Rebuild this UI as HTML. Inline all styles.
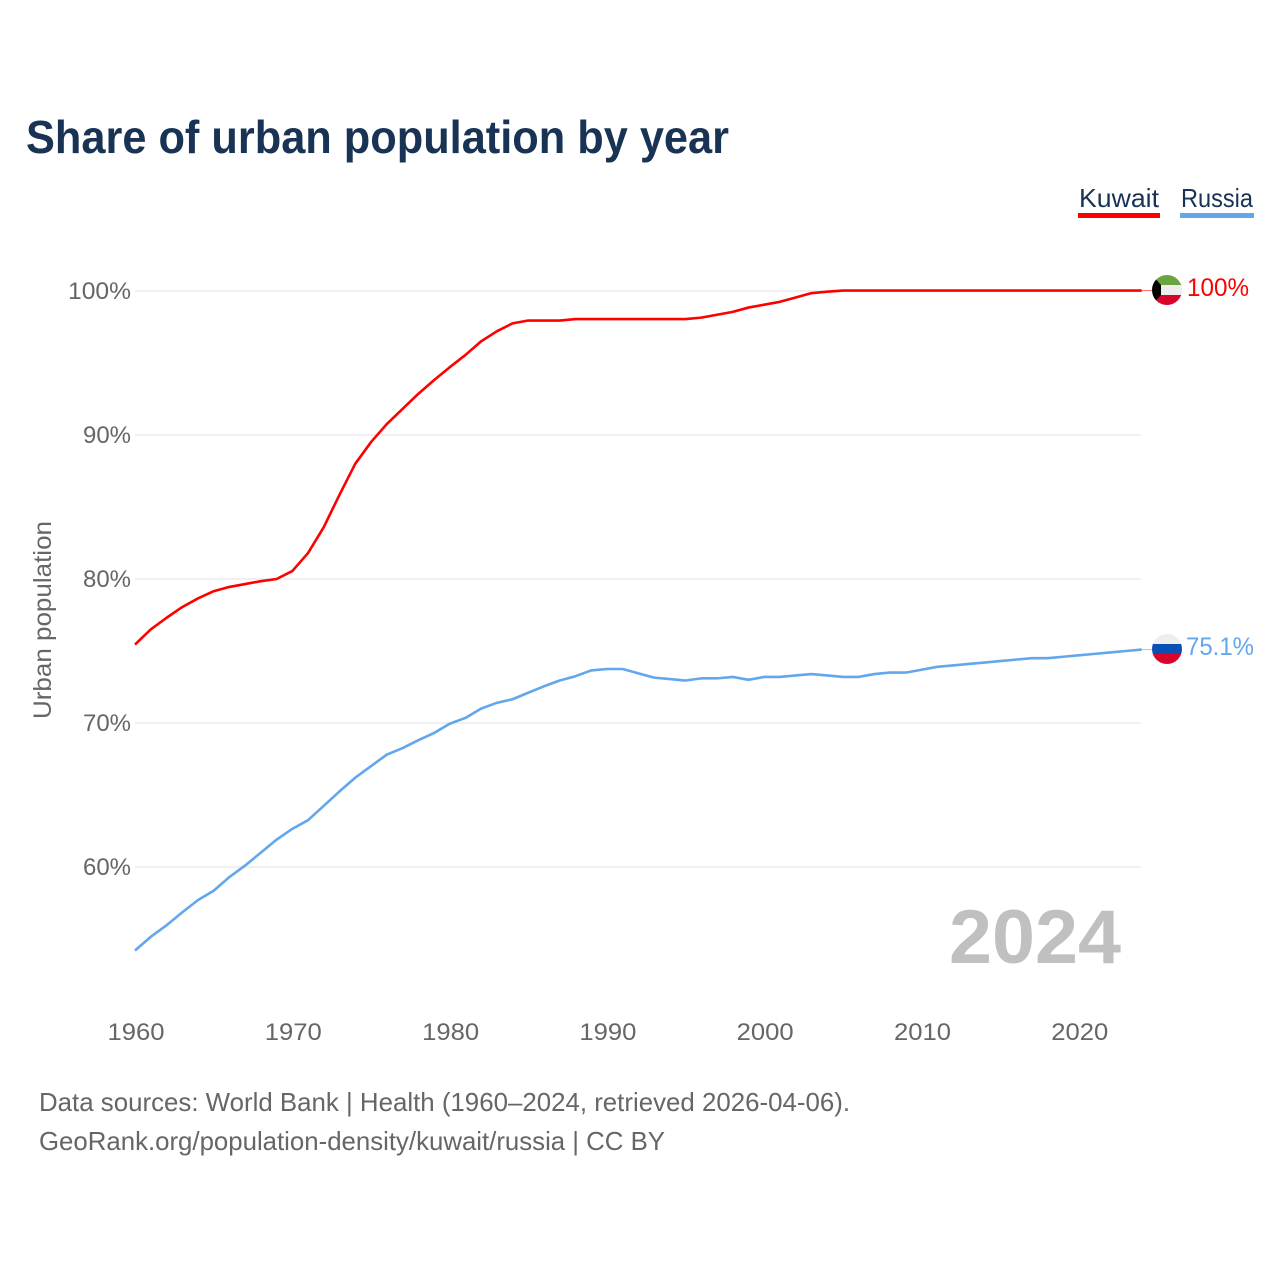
<!DOCTYPE html>
<html lang="en">
<head>
<meta charset="utf-8">
<title>Share of urban population by year</title>
<style>
html,body{margin:0;padding:0;background:#fff;width:1280px;height:1280px;overflow:hidden}
svg{display:block}
text{font-family:"Liberation Sans",sans-serif}
</style>
</head>
<body>
<svg id="chart" xmlns="http://www.w3.org/2000/svg" width="1280" height="1280" viewBox="0 0 1280 1280">
  <defs>
    <clipPath id="kw-clip"><circle cx="1167" cy="290" r="15"/></clipPath>
    <clipPath id="ru-clip"><circle cx="1167" cy="649" r="15"/></clipPath>
  </defs>
  <rect width="1280" height="1280" fill="#fff"/>
  <text x="26" y="153" font-size="46" font-weight="700" fill="#193354" textLength="703" lengthAdjust="spacingAndGlyphs">Share of urban population by year</text>

  <g>
    <g>
      <text x="1079" y="207" font-size="26" fill="#193354" textLength="80" lengthAdjust="spacingAndGlyphs">Kuwait</text>
      <rect x="1078" y="213" width="82" height="5" fill="#ff0000"/>
    </g>
    <g>
      <text x="1181" y="207" font-size="26" fill="#193354" textLength="72" lengthAdjust="spacingAndGlyphs">Russia</text>
      <rect x="1180" y="213" width="74" height="5" fill="#62a6ec"/>
    </g>
  </g>

  <g id="grid"></g>
  <g id="yticks"></g>
  <g id="xticks"></g>
  <text transform="translate(51,719) rotate(-90)" font-size="25" fill="#666" textLength="198" lengthAdjust="spacingAndGlyphs">Urban population</text>

  <text x="949" y="963" font-size="76" font-weight="700" fill="#c0c0c0" textLength="172" lengthAdjust="spacingAndGlyphs">2024</text>

  <g id="series"></g>

  <g clip-path="url(#kw-clip)">
    <rect x="1152" y="275" width="30" height="11" fill="#6ba43f"/>
    <rect x="1152" y="285" width="30" height="11" fill="#eeeeee"/>
    <rect x="1152" y="295" width="30" height="11" fill="#d90429"/>
    <polygon points="1152,275 1161,285 1161,295 1152,305" fill="#000"/>
  </g>
  <g clip-path="url(#ru-clip)">
    <rect x="1152" y="634" width="30" height="11" fill="#eeeeee"/>
    <rect x="1152" y="644" width="30" height="11" fill="#0a4fb4"/>
    <rect x="1152" y="654" width="30" height="10" fill="#d90429"/>
  </g>
  <text id="label-kuwait" x="1187" y="296" font-size="25" fill="#ff0000" textLength="62" lengthAdjust="spacingAndGlyphs">100%</text>
  <text id="label-russia" x="1186" y="655" font-size="25" fill="#62a6ec" textLength="68" lengthAdjust="spacingAndGlyphs">75.1%</text>

  <text x="39" y="1111" font-size="26" fill="#666" textLength="811" lengthAdjust="spacingAndGlyphs">Data sources: World Bank | Health (1960–2024, retrieved 2026-04-06).</text>
  <text x="39" y="1150" font-size="26" fill="#666" textLength="626" lengthAdjust="spacingAndGlyphs">GeoRank.org/population-density/kuwait/russia | CC BY</text>
</svg>
<script>
const startYear = 1960;
const kuwaitValues = [75.45,76.5,77.3,78.05,78.65,79.15,79.45,79.65,79.85,80.0,80.55,81.8,83.6,85.85,88.0,89.5,90.75,91.8,92.85,93.8,94.7,95.55,96.5,97.2,97.75,97.95,97.95,97.95,98.05,98.05,98.05,98.05,98.05,98.05,98.05,98.05,98.15,98.35,98.55,98.85,99.05,99.25,99.55,99.85,99.95,100.03,100.03,100.03,100.03,100.03,100.03,100.03,100.03,100.03,100.03,100.03,100.03,100.03,100.03,100.03,100.03,100.03,100.03,100.03,100.03];
const russiaValues = [54.2,55.15,55.95,56.85,57.7,58.35,59.3,60.1,61.0,61.9,62.65,63.25,64.25,65.25,66.2,67.0,67.8,68.25,68.8,69.3,69.95,70.35,71.0,71.4,71.65,72.1,72.55,72.95,73.25,73.65,73.75,73.75,73.45,73.15,73.05,72.95,73.1,73.1,73.2,73.0,73.2,73.2,73.3,73.4,73.3,73.2,73.2,73.4,73.5,73.5,73.7,73.9,74.0,74.1,74.2,74.3,74.4,74.5,74.5,74.6,74.7,74.8,74.9,75.0,75.1];
const xTickYears = [1960,1970,1980,1990,2000,2010,2020];
const yTickValues = [60,70,80,90,100];

const NS = 'http://www.w3.org/2000/svg';
function xScale(year){ return 135 + (year - 1960) * 15.73; }
function yScale(value){ return 867 - (value - 60) * 14.4; }

const grid = document.getElementById('grid');
const yticks = document.getElementById('yticks');
const xticks = document.getElementById('xticks');
const series = document.getElementById('series');

yTickValues.forEach(function(v){
  const line = document.createElementNS(NS, 'line');
  
  
  line.setAttribute('x1', 135);
  line.setAttribute('x2', 1141);
  line.setAttribute('y1', yScale(v));
  line.setAttribute('y2', yScale(v));
  line.setAttribute('stroke', '#e6e6e6');
  line.setAttribute('stroke-width', '1.3');
  grid.appendChild(line);

  const t = document.createElementNS(NS, 'text');
  
  
  t.setAttribute('x', 131);
  t.setAttribute('y', yScale(v) + 8);
  t.setAttribute('text-anchor', 'end');
  t.setAttribute('font-size', '24');
  t.setAttribute('fill', '#666');
  t.setAttribute('textLength', v === 100 ? 63 : 48);
  t.setAttribute('lengthAdjust', 'spacingAndGlyphs');
  t.textContent = v + '%';
  yticks.appendChild(t);
});

xTickYears.forEach(function(y){
  const t = document.createElementNS(NS, 'text');
  
  
  t.setAttribute('x', xScale(y) + 1);
  t.setAttribute('y', 1040);
  t.setAttribute('text-anchor', 'middle');
  t.setAttribute('font-size', '24');
  t.setAttribute('fill', '#666');
  t.setAttribute('textLength', 57);
  t.setAttribute('lengthAdjust', 'spacingAndGlyphs');
  t.textContent = y;
  xticks.appendChild(t);
});

function drawSeries(values, color, name){
  const pts = values.map(function(v, i){
    return xScale(startYear + i).toFixed(2) + ',' + yScale(v).toFixed(2);
  }).join(' ');
  const p = document.createElementNS(NS, 'polyline');
  
  
  p.setAttribute('points', pts);
  p.setAttribute('fill', 'none');
  p.setAttribute('stroke', color);
  p.setAttribute('stroke-width', '2.6');
  p.setAttribute('stroke-linejoin', 'round');
  series.appendChild(p);

  const last = values[values.length - 1];
  const c = document.createElementNS(NS, 'line');
  
  
  c.setAttribute('x1', xScale(startYear + values.length - 1));
  c.setAttribute('x2', 1152);
  c.setAttribute('y1', yScale(last));
  c.setAttribute('y2', yScale(last));
  c.setAttribute('stroke', color);
  c.setAttribute('stroke-width', '1');
  c.setAttribute('opacity', '0.6');
  series.appendChild(c);
}
drawSeries(kuwaitValues, '#ff0000', 'line-kuwait');
drawSeries(russiaValues, '#62a6ec', 'line-russia');
</script>
</body>
</html>
